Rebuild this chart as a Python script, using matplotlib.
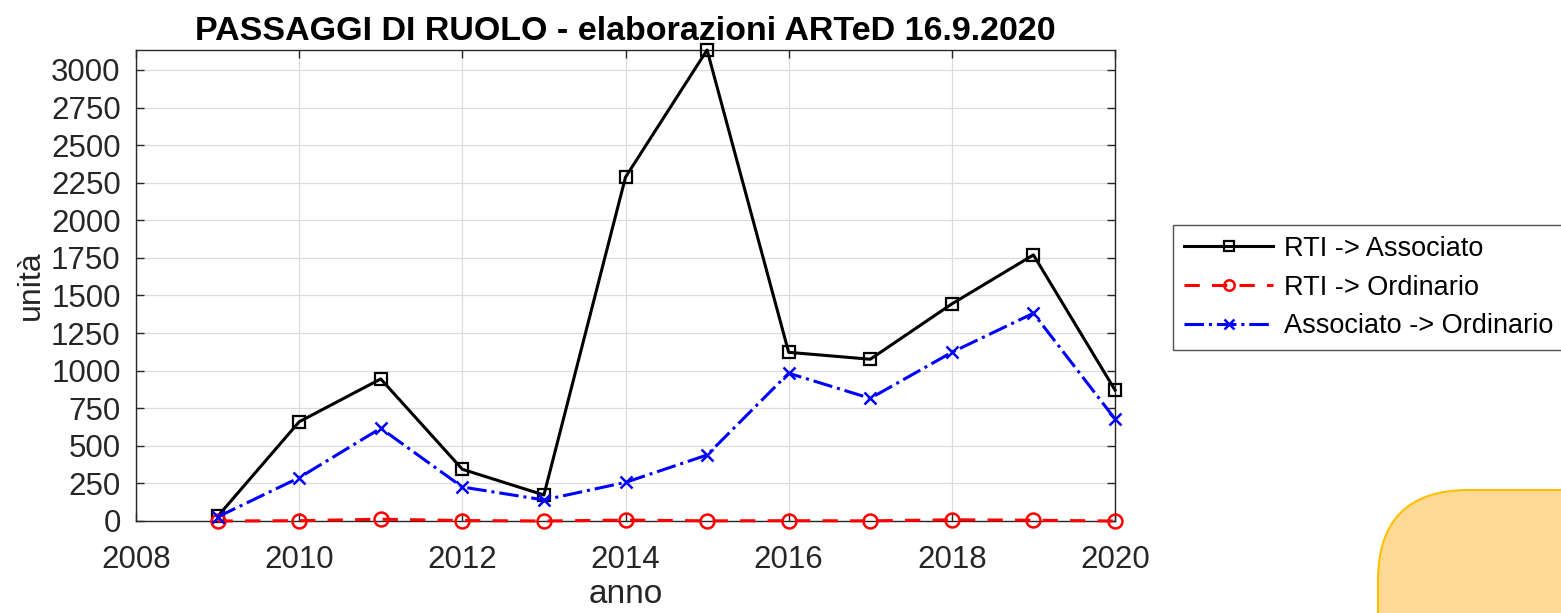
import matplotlib
matplotlib.use("Agg")
import matplotlib.pyplot as plt
from matplotlib.patches import FancyBboxPatch

plt.rcParams['font.family'] = ['Liberation Sans', 'DejaVu Sans']

years = [2009, 2010, 2011, 2012, 2013, 2014, 2015, 2016, 2017, 2018, 2019, 2020]
rti_associato = [30, 660, 945, 344, 173, 2287, 3133, 1122, 1076, 1444, 1770, 871]
rti_ordinario = [0, 2, 12, 3, 0, 6, 1, 2, 1, 8, 5, 0]
associato_ordinario = [27, 288, 617, 226, 140, 257, 439, 983, 816, 1122, 1382, 679]
labels = ['RTI -> Associato', 'RTI -> Ordinario', 'Associato -> Ordinario']
xticks = [2008, 2010, 2012, 2014, 2016, 2018, 2020]
yticks = list(range(0, 3001, 250))

fig = plt.figure(figsize=(15.61, 6.13), dpi=100)
fig.patch.set_facecolor('white')

# decorative yellow rounded box bottom right
box = FancyBboxPatch((1378 / 1561, -0.2), 0.3, 0.2 + (613 - 490) / 613,
                     boxstyle="round,pad=0,rounding_size=0.058",
                     transform=fig.transFigure, facecolor='#FDD995',
                     edgecolor='#FFC000', linewidth=1.5, mutation_aspect=2.55)
fig.patches.append(box)

ax = fig.add_axes([136 / 1561, 1 - 521 / 613, (1115 - 136) / 1561, (521 - 50) / 613])
ax.set_facecolor('none')

l1, = ax.plot(years, rti_associato, color='black', linestyle='-', linewidth=2.2,
              marker='s', markersize=9, markerfacecolor='none', markeredgewidth=1.6,
              label=labels[0], clip_on=False, zorder=3)
l2, = ax.plot(years, rti_ordinario, color='red', linestyle='--', linewidth=2.2,
              marker='o', markersize=10, markerfacecolor='none', markeredgewidth=1.8,
              label=labels[1], dashes=(5, 4), clip_on=False, zorder=3)
l3, = ax.plot(years, associato_ordinario, color='blue', linestyle='-.', linewidth=2.2,
              marker='x', markersize=9, markeredgewidth=1.8,
              label=labels[2], clip_on=False, zorder=4)

ax.set_xlim(2008, 2020)
ax.set_ylim(0, max(rti_associato))
ax.set_xticks(xticks)
ax.set_yticks(yticks)
ax.tick_params(axis='both', direction='in', top=True, right=True, labelsize=22.5,
               length=6, width=1, colors='#262626')
ax.tick_params(axis='x', pad=17)
ax.tick_params(axis='y', pad=11)
ax.grid(True, color='#dcdcdc', linewidth=0.9)
ax.set_axisbelow(True)
for s in ax.spines.values():
    s.set_color('#262626')
    s.set_linewidth(1)

ax.set_title('PASSAGGI DI RUOLO - elaborazioni ARTeD 16.9.2020', fontsize=24.5,
             fontweight='bold', pad=7)
ax.set_xlabel('anno', fontsize=24, color='#262626', labelpad=3)
ax.set_ylabel('unità', fontsize=23, color='#262626', labelpad=4)

leg = fig.legend(handles=[l1, l2, l3], loc='upper left',
                 bbox_to_anchor=(1173 / 1561, 1 - 225 / 613), fontsize=19.5,
                 frameon=True, fancybox=False, edgecolor='#262626',
                 handlelength=3.3, borderpad=0.4, labelspacing=0.47,
                 handletextpad=0.4, markerscale=0.75, borderaxespad=0)
leg.get_frame().set_linewidth(1)
leg.get_frame().set_facecolor('white')

fig.savefig('out.png', dpi=100, facecolor='white')
